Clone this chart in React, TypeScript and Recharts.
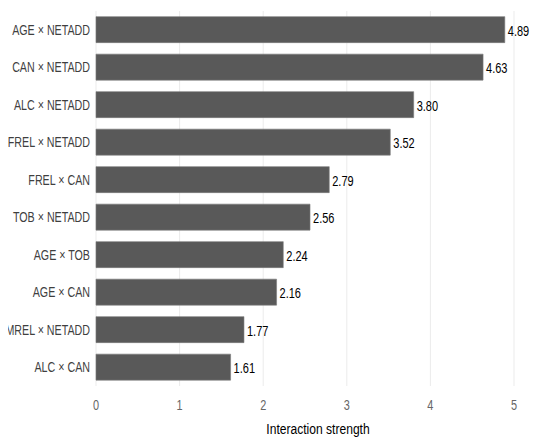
import React from "react";
import { BarChart, Bar, XAxis, YAxis, CartesianGrid, LabelList } from "recharts";

const categories = [
  "AGE × NETADD",
  "CAN × NETADD",
  "ALC × NETADD",
  "FREL × NETADD",
  "FREL × CAN",
  "TOB × NETADD",
  "AGE × TOB",
  "AGE × CAN",
  "MREL × NETADD",
  "ALC × CAN",
];
const strengths = [4.89, 4.63, 3.8, 3.52, 2.79, 2.56, 2.24, 2.16, 1.77, 1.61];
const xTicks = [0, 1, 2, 3, 4, 5];
const xTitle = "Interaction strength";

const data = categories.map((name, i) => ({ name, value: strengths[i] }));

const FONT = "'Liberation Sans', Arial, sans-serif";

function CondText(props: any) {
  const { x, y, text, anchor, size, fill, sx } = props;
  return (
    <text
      transform={`translate(${x},${y}) scale(${sx},1)`}
      x={0}
      y={0}
      textAnchor={anchor}
      dominantBaseline="central"
      fontSize={size}
      fontFamily={FONT}
      fill={fill}
    >
      {text}
    </text>
  );
}

const YTick = (props: any) => {
  const { x, y, payload } = props;
  return <CondText x={x - 4} y={y} text={payload.value} anchor="end" size={15.5} fill="#3f3f3f" sx={0.69} />;
};

const XTick = (props: any) => {
  const { x, y, payload } = props;
  return <CondText x={x} y={y + 18} text={String(payload.value)} anchor="middle" size={14} fill="#666666" sx={0.78} />;
};

const ValueLabel = (props: any) => {
  const { x, y, width, height, value } = props;
  return (
    <CondText
      x={x + width + 3}
      y={y + height / 2 + 1}
      text={Number(value).toFixed(2)}
      anchor="start"
      size={14.5}
      fill="#000000"
      sx={0.76}
    />
  );
};

const XTitle = (props: any) => {
  const { viewBox } = props;
  const cx = viewBox.x + viewBox.width / 2 + 13;
  return <CondText x={cx} y={viewBox.y + 42} text={xTitle} anchor="middle" size={15.5} fill="#000000" sx={0.78} />;
};

export default function App() {
  return (
    <div style={{ margin: "-8px" }}>
      <BarChart
        width={550}
        height={446}
        data={data}
        layout="vertical"
        margin={{ top: 11, right: 36, bottom: 0, left: 0 }}
        barCategoryGap="15%"
      >
        <CartesianGrid horizontal={false} stroke="#ebebeb" strokeWidth={1} />
        <XAxis
          type="number"
          domain={[0, 5]}
          ticks={xTicks}
          axisLine={false}
          tickLine={false}
          tickSize={0}
          height={60}
          tick={<XTick />}
          label={<XTitle />}
        />
        <YAxis
          type="category"
          dataKey="name"
          width={96}
          axisLine={false}
          tickLine={false}
          tickSize={0}
          interval={0}
          tick={<YTick />}
        />
        <Bar dataKey="value" fill="#595959" stroke="#7a7a7a" strokeWidth={0.6} isAnimationActive={false}>
          <LabelList dataKey="value" content={<ValueLabel />} />
        </Bar>
      </BarChart>
    </div>
  );
}
